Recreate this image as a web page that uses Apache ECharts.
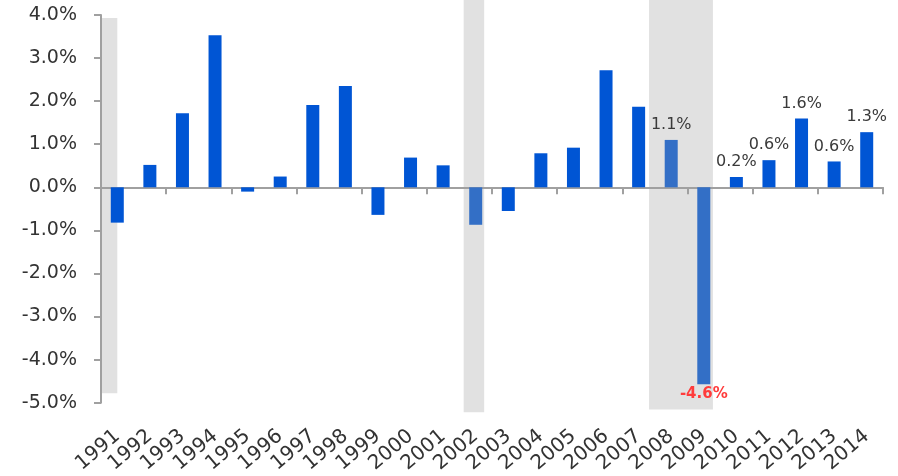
<!DOCTYPE html>
<html>
<head>
<meta charset="utf-8">
<script src="https://cdn.jsdelivr.net/npm/echarts@6/dist/echarts.min.js"></script>
<style>
html,body{margin:0;padding:0;background:#fff;}
#chart{width:898px;height:476px;}
</style>
</head>
<body>
<div id="chart"></div>
<script>
// ---- data ----
var years = ['1991','1992','1993','1994','1995','1996','1997','1998','1999','2000','2001','2002','2003','2004','2005','2006','2007','2008','2009','2010','2011','2012','2013','2014'];
var growth = [-0.82, 0.52, 1.72, 3.53, -0.10, 0.25, 1.91, 2.35, -0.64, 0.69, 0.51, -0.87, -0.55, 0.79, 0.92, 2.72, 1.87, 1.10, -4.57, 0.24, 0.63, 1.60, 0.60, 1.28];
var highlightYears = ['2002','2008','2009'];
var labeledYears = ['2008','2009','2010','2011','2012','2013','2014'];
var yTicks = [-5, -4, -3, -2, -1, 0, 1, 2, 3, 4];
// recession shading (fractional year, value units)
var recStart = [1990.5, 2001.63, 2007.32];
var recEnd = [1991.0, 2002.26, 2009.28];
var recTop = [3.93, 4.6, 4.6];
var recBottom = [-4.78, -5.22, -5.16];

// ---- chart ----
var FONT = 'DejaVu Sans';
var chart = echarts.init(document.getElementById('chart'), null, {renderer: 'canvas'});
var pct = function (v) { return v.toFixed(1) + '%'; };

var barData = years.map(function (y, i) {
  var v = growth[i];
  var item = {
    value: v,
    itemStyle: {color: highlightYears.indexOf(y) >= 0 ? '#336fc6' : '#0055d4'}
  };
  if (labeledYears.indexOf(y) >= 0) {
    if (v < 0) {
      item.label = {show: true, position: 'bottom', distance: 2, color: '#ff3b3b', fontWeight: 'bold', fontSize: 15, fontFamily: FONT,
        formatter: function (p) { return pct(p.value); }};
    } else {
      item.label = {show: true, position: 'top', distance: 7, color: '#3a3a3a', fontSize: 16, fontFamily: FONT,
        formatter: function (p) { return pct(p.value); }};
    }
  }
  return item;
});

var recData = recStart.map(function (s, i) { return [s, recEnd[i], recTop[i], recBottom[i]]; });

var option = {
  animation: false,
  backgroundColor: '#ffffff',
  grid: {left: 101, right: 15, top: 15, bottom: 73, containLabel: false},
  xAxis: [
    {
      type: 'category', data: years, boundaryGap: true,
      axisLine: {show: true, onZero: true, lineStyle: {color: '#a0a0a0', width: 2}},
      axisTick: {show: true, length: 7, lineStyle: {color: '#a0a0a0', width: 2}},
      axisLabel: {show: false}, splitLine: {show: false}
    },
    {
      type: 'category', data: years, boundaryGap: true, position: 'bottom',
      axisLine: {show: false, onZero: false}, axisTick: {show: false},
      axisLabel: {show: true, rotate: 40, margin: 31, fontSize: 20, color: '#333', fontFamily: FONT, interval: 0},
      splitLine: {show: false}
    },
    {
      type: 'value', min: 1990.5, max: 2014.5, show: false
    }
  ],
  yAxis: [{
    type: 'value', min: yTicks[0], max: yTicks[yTicks.length - 1], interval: 1,
    axisLine: {show: true, lineStyle: {color: '#a0a0a0', width: 2}},
    axisTick: {show: true, length: 7, lineStyle: {color: '#a0a0a0', width: 2}},
    axisLabel: {margin: 24, fontSize: 19, color: '#333', fontFamily: FONT,
      formatter: function (v) { return pct(v); }},
    splitLine: {show: false}
  }],
  series: [
    {
      type: 'custom', xAxisIndex: 2, yAxisIndex: 0, clip: false, z: 0, silent: true,
      data: recData,
      encode: {x: [0, 1], y: [2, 3]},
      renderItem: function (params, api) {
        var p1 = api.coord([api.value(0), api.value(2)]);
        var p2 = api.coord([api.value(1), api.value(3)]);
        return {type: 'rect', shape: {x: p1[0], y: p1[1], width: p2[0] - p1[0], height: p2[1] - p1[1]},
          style: {fill: '#e1e1e1'}};
      }
    },
    {
      type: 'bar', xAxisIndex: 0, yAxisIndex: 0, z: 2,
      barWidth: 13, data: barData
    }
  ]
};
chart.setOption(option);
</script>
</body>
</html>
